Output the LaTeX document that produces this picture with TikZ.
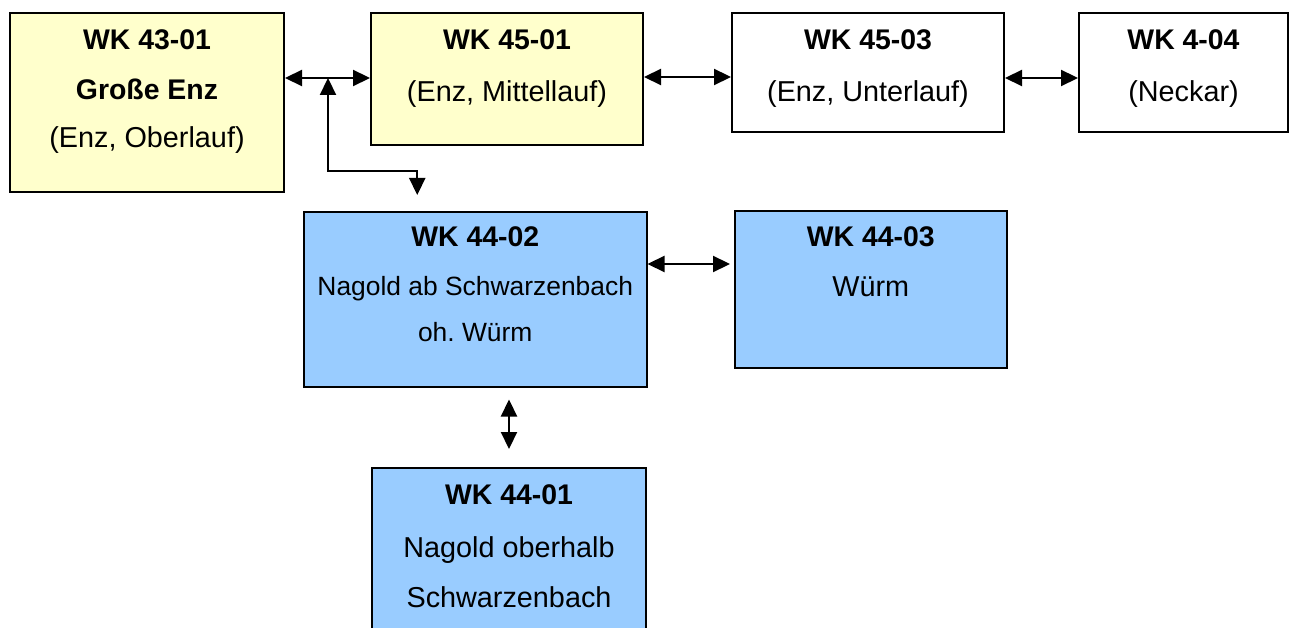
\documentclass[tikz,border=0pt]{standalone}
\usepackage{fontspec}
\setmainfont{Liberation Sans}
\usetikzlibrary{arrows.meta,calc}
\definecolor{boxyellow}{RGB}{255,255,204}
\definecolor{boxblue}{RGB}{153,204,255}
\frenchspacing
\begin{document}
\begin{tikzpicture}[x=1pt,y=-1pt,
  box/.style={draw=black, line width=2pt, inner sep=0pt},
  ybox/.style={box, fill=boxyellow},
  bbox/.style={box, fill=boxblue},
  wbox/.style={box, fill=white},
  hd/.style={anchor=base, inner sep=0pt, font=\fontsize{28.4}{32}\selectfont\bfseries},
  tx/.style={anchor=base, inner sep=0pt, font=\fontsize{28.8}{32}\selectfont},
  txs/.style={anchor=base, inner sep=0pt, font=\fontsize{26.4}{32}\selectfont},
  arr/.style={line width=2.2pt, {Triangle[length=17pt,width=16pt]}-{Triangle[length=17pt,width=16pt]}}]
\useasboundingbox (0,0) rectangle (1291,628);
\begin{scope}
\clip (0,0) rectangle (1291,628);
% boxes
\node[ybox, minimum width=274pt, minimum height=179pt] (A) at (147,102.5) {};
\node[ybox, minimum width=272pt, minimum height=132pt] (B) at (507,79) {};
\node[wbox, minimum width=272pt, minimum height=119.5pt] (C) at (868,72.75) {};
\node[wbox, minimum width=209pt, minimum height=119pt] (D) at (1183.5,72.5) {};
\node[bbox, minimum width=342.5pt, minimum height=174.5pt] (E) at (475.25,299.25) {};
\node[bbox, minimum width=271.5pt, minimum height=156.5pt] (F) at (870.75,289.75) {};
\node[bbox, minimum width=274pt, minimum height=182pt] (G) at (509,559) {};
% texts
\node[hd] (a1) at (147,49.5) {WK 43-01};
\node[hd] (a2) at (147,99.5) {Große Enz};
\node[tx] (a3) at (147,148) {(Enz, Oberlauf)};
\node[hd] (b1) at (507,49.5) {WK 45-01};
\node[tx] (b2) at (507,101.5) {(Enz, Mittellauf)};
\node[hd] (c1) at (868,49.5) {WK 45-03};
\node[tx] (c2) at (868,101.5) {(Enz, Unterlauf)};
\node[hd] (d1) at (1183.5,49.5) {WK 4-04};
\node[tx] (d2) at (1183.5,101.5) {(Neckar)};
\node[hd] (e1) at (475.25,247) {WK 44-02};
\node[txs] (e2) at (475.25,296) {Nagold ab Schwarzenbach};
\node[txs] (e3) at (475.25,341.5) {oh. Würm};
\node[hd] (f1) at (870.75,247) {WK 44-03};
\node[tx] (f2) at (870.75,297) {Würm};
\node[hd] (g1) at (509,504.5) {WK 44-01};
\node[tx] (g2) at (509,557.5) {Nagold oberhalb};
\node[tx] (g3) at (509,607.5) {Schwarzenbach};
% connectors
\draw[arr] ([yshift=-66pt]A.north east) -- ([yshift=-66pt]A.north east -| B.west);
\coordinate (j) at ([xshift=43pt,yshift=-66pt]A.north east);
\coordinate (jb) at ([yshift=-93pt]j);
\draw[arr] (j) -- (jb) -| ([xshift=-58pt,yshift=16pt]E.north);
\draw[arr] ([yshift=-65pt]B.north east) -- ([yshift=-65pt]B.north east -| C.west);
\draw[arr] ([yshift=-66pt]C.north east) -- ([yshift=-66pt]C.north east -| D.west);
\draw[arr, shorten >=4pt] ([yshift=-53pt]E.north east) -- ([yshift=-53pt]E.north east -| F.west);
\draw[arr, shorten <=12pt, shorten >=18pt] (E.south -| G.north) -- (G.north);
\end{scope}
\end{tikzpicture}
\end{document}
